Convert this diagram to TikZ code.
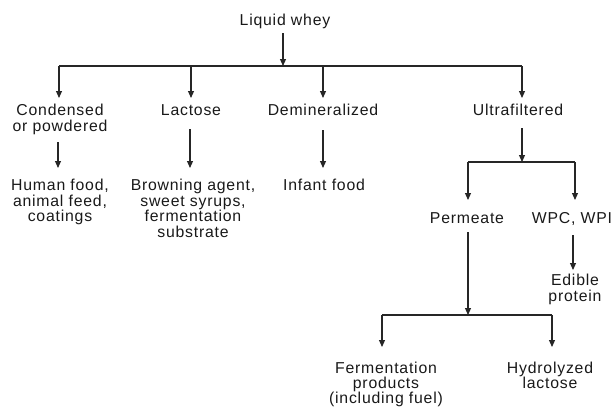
\documentclass[tikz,border=0pt]{standalone}
\usepackage{fontspec}
\setmainfont[LetterSpace=5]{Liberation Sans}
\usetikzlibrary{arrows.meta}
\begin{document}
\begin{tikzpicture}[x=1pt,y=-1pt,
  lbl/.style={anchor=north,inner sep=0pt,align=center,text=black!90,
    font=\fontsize{15.8}{15.5}\selectfont},
  ln/.style={line width=1.1pt,draw=black!85},
  arr/.style={ln,-{Triangle[length=7pt,width=6pt]}}]
\useasboundingbox (0,0) rectangle (616,410);
% nodes
\node[lbl] (whey) at (285,14) {Liquid whey};
\node[lbl] (cond) at (60,104) {Condensed\\or powdered};
\node[lbl] (lact) at (191,104) {Lactose};
\node[lbl] (demin) at (323,104) {Demineralized};
\node[lbl] (ultra) at (518,104) {Ultrafiltered};
\node[lbl] (human) at (60,179) {Human food,\\animal feed,\\coatings};
\node[lbl] (brown) at (193,179) {Browning agent,\\sweet syrups,\\fermentation\\substrate};
\node[lbl] (infant) at (324,179) {Infant food};
\node[lbl] (perm) at (467,212) {Permeate};
\node[lbl] (wpc) at (572,212) {WPC, WPI};
\node[lbl] (edible) at (575,274) {Edible\\protein};
\node[lbl,font=\fontsize{15.8}{14.8}\selectfont] (ferm) at (386,362) {Fermentation\\products\\(including fuel)};
\node[lbl,font=\fontsize{15.8}{14.8}\selectfont] (hydro) at (550,362) {Hydrolyzed\\lactose};
% junction coordinates
\coordinate (wtop) at (283,33);
\coordinate (wbar) at (283,66);
\coordinate (b1) at (59,66);
\coordinate (b2) at (191,66);
\coordinate (b3) at (323,66);
\coordinate (b4) at (522,66);
\coordinate (ctop) at (58,142);
\coordinate (ltop) at (190,129);
\coordinate (dtop) at (323,130);
\coordinate (utop) at (522,128);
\coordinate (ubar) at (522,162);
\coordinate (u1) at (468,162);
\coordinate (u2) at (575,162);
\coordinate (ptop) at (468,232);
\coordinate (pbar) at (468,315);
\coordinate (p1) at (382,315);
\coordinate (p2) at (552,315);
\coordinate (wtop2) at (573,235);
% connectors
\draw[arr] (wtop) -- (wbar);
\draw[ln] (b1) -- (b4);
\draw[arr] (b1) -- (b1 |- 0,98);
\draw[arr] (b2) -- (b2 |- 0,98);
\draw[arr] (b3) -- (b3 |- 0,98);
\draw[arr] (b4) -- (b4 |- 0,98);
\draw[arr] (ctop) -- (ctop |- 0,168);
\draw[arr] (ltop) -- (ltop |- 0,168);
\draw[arr] (dtop) -- (dtop |- 0,168);
\draw[arr] (utop) -- (ubar);
\draw[ln] (u1) -- (u2);
\draw[arr] (u1) -- (u1 |- 0,200);
\draw[arr] (u2) -- (u2 |- 0,200);
\draw[arr] (ptop) -- (pbar);
\draw[ln] (p1) -- (p2);
\draw[arr] (p1) -- (p1 |- 0,347);
\draw[arr] (p2) -- (p2 |- 0,347);
\draw[arr] (wtop2) -- (wtop2 |- 0,270);
\end{tikzpicture}
\end{document}
